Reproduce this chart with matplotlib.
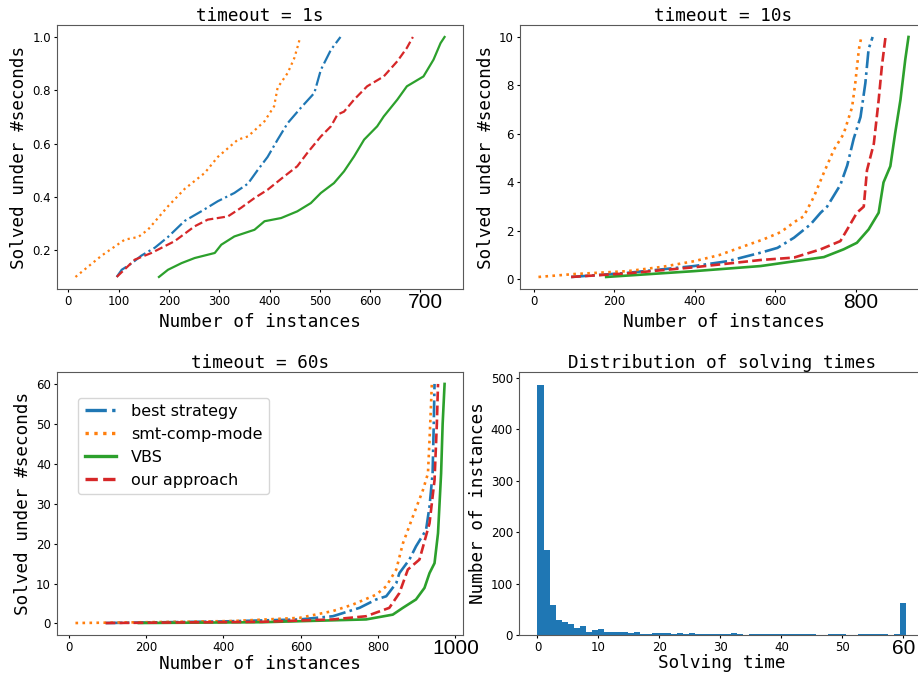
import numpy as np
import matplotlib
matplotlib.use("Agg")
import matplotlib.pyplot as plt

# timeout = 1s  (x = number of instances, y = seconds)
t1_best_x = [96, 106, 125, 145, 172, 198, 231, 264, 297, 330, 357, 376, 396, 416, 436, 462, 489, 502, 522, 541]
t1_best_y = [0.10, 0.127, 0.15, 0.18, 0.21, 0.25, 0.31, 0.346, 0.384, 0.415, 0.45, 0.50, 0.55, 0.615, 0.677, 0.734, 0.79, 0.877, 0.952, 1.0]
t1_smt_x = [14, 66, 112, 139, 158, 198, 231, 271, 297, 337, 357, 390, 409, 416, 436, 449, 456, 461]
t1_smt_y = [0.10, 0.18, 0.24, 0.25, 0.277, 0.365, 0.43, 0.49, 0.55, 0.615, 0.627, 0.684, 0.74, 0.81, 0.865, 0.92, 0.965, 1.0]
t1_vbs_x = [180, 198, 225, 251, 291, 304, 330, 370, 390, 423, 455, 482, 502, 528, 548, 568, 588, 614, 627, 654, 673, 706, 726, 740, 748]
t1_vbs_y = [0.10, 0.127, 0.152, 0.171, 0.19, 0.221, 0.252, 0.277, 0.309, 0.321, 0.346, 0.377, 0.415, 0.452, 0.496, 0.552, 0.615, 0.665, 0.702, 0.765, 0.815, 0.852, 0.915, 0.977, 1.0]
t1_ours_x = [96, 132, 165, 211, 251, 277, 317, 343, 370, 396, 429, 455, 475, 502, 522, 535, 548, 568, 594, 627, 654, 673, 685]
t1_ours_y = [0.10, 0.165, 0.19, 0.234, 0.29, 0.315, 0.327, 0.359, 0.396, 0.427, 0.477, 0.515, 0.565, 0.627, 0.665, 0.709, 0.72, 0.765, 0.815, 0.852, 0.909, 0.959, 1.0]

# timeout = 10s
t10_best_x = [93, 233, 398, 481, 563, 605, 646, 687, 712, 728, 761, 778, 794, 811, 823, 831, 841]
t10_best_y = [0.1, 0.27, 0.55, 0.75, 1.1, 1.3, 1.72, 2.27, 2.75, 3.0, 3.9, 4.7, 5.8, 6.7, 8.1, 9.5, 10.0]
t10_smt_x = [12, 100, 233, 320, 398, 460, 522, 570, 613, 650, 670, 695, 720, 745, 769, 790, 798, 807, 813]
t10_smt_y = [0.1, 0.22, 0.34, 0.52, 0.75, 1.0, 1.37, 1.65, 1.95, 2.4, 2.6, 3.4, 4.4, 5.35, 6.0, 7.1, 8.1, 9.5, 10.0]
t10_vbs_x = [180, 398, 563, 720, 769, 802, 831, 856, 868, 885, 897, 910, 922, 930]
t10_vbs_y = [0.1, 0.34, 0.55, 0.92, 1.24, 1.51, 2.06, 2.75, 4.0, 4.67, 6.04, 7.4, 9.07, 10.0]
t10_ours_x = [93, 233, 398, 563, 646, 712, 761, 778, 802, 819, 827, 844, 856, 864, 873]
t10_ours_y = [0.1, 0.25, 0.5, 0.8, 0.9, 1.24, 1.58, 2.06, 2.75, 3.0, 4.5, 5.6, 7.4, 8.8, 10.0]

# timeout = 60s
t60_best_x = [95, 400, 597, 683, 752, 795, 821, 847, 855, 881, 898, 924, 933, 941, 944, 946]
t60_best_y = [0.1, 0.5, 1.0, 1.8, 3.9, 6.0, 6.8, 10.1, 12.6, 16, 19.3, 23.4, 29.3, 37.6, 50, 60]
t60_smt_x = [17, 200, 424, 597, 683, 734, 795, 821, 847, 864, 890, 916, 929, 933, 937, 939]
t60_smt_y = [0.1, 0.3, 0.6, 1.4, 3.1, 4.7, 7.2, 9.3, 13.5, 20, 26.8, 33.4, 37.6, 45.9, 55, 60]
t60_vbs_x = [181, 500, 769, 838, 864, 898, 920, 933, 946, 955, 963, 967, 972]
t60_vbs_y = [0.1, 0.3, 1.0, 2.2, 3.9, 6.0, 8.9, 12.6, 15.1, 22.6, 37.6, 50, 60]
t60_ours_x = [95, 500, 683, 769, 829, 855, 877, 907, 933, 946, 952, 955]
t60_ours_y = [0.1, 0.4, 1.0, 1.8, 3.9, 7.6, 13.5, 16, 25.1, 35.9, 50, 60]

# histogram of solving times (one bin per second, last bin = timeouts)
hist_counts = [487, 166, 58, 29, 26, 21, 13, 17, 5, 10, 11, 5, 6, 6, 6, 3, 5, 2, 1, 3,
               3, 3, 1, 3, 1, 3, 2, 2, 1, 1, 1, 1, 4, 1, 0, 1, 1, 1, 2, 1,
               2, 1, 1, 1, 1, 1, 0, 0, 1, 1, 1, 0, 0, 1, 1, 1, 1, 1, 0, 1, 63]

labels = ["best strategy", "smt-comp-mode", "VBS", "our approach"]
colors = ["#1f77b4", "#ff7f0e", "#2ca02c", "#d62728"]
styles = ["-.", ":", "-", "--"]

mono = "DejaVu Sans Mono"
big = ["Liberation Sans", "DejaVu Sans"]
tick_fs = 8.5
lab_fs = 12.7

fig = plt.figure(figsize=(9.18, 6.75), dpi=100)
ax1 = fig.add_axes([0.0621, 0.5719, 0.4423, 0.3911])
ax2 = fig.add_axes([0.5664, 0.5719, 0.4434, 0.3911])
ax3 = fig.add_axes([0.0621, 0.0593, 0.4423, 0.3896])
ax4 = fig.add_axes([0.5654, 0.0593, 0.4420, 0.3896])

panels = [
    (ax1, "timeout = 1s", [(t1_best_x, t1_best_y), (t1_smt_x, t1_smt_y), (t1_vbs_x, t1_vbs_y), (t1_ours_x, t1_ours_y)],
     [0, 100, 200, 300, 400, 500, 600, 700], [0.2, 0.4, 0.6, 0.8, 1.0], 1.6, 4),
    (ax2, "timeout = 10s", [(t10_best_x, t10_best_y), (t10_smt_x, t10_smt_y), (t10_vbs_x, t10_vbs_y), (t10_ours_x, t10_ours_y)],
     [0, 200, 400, 600, 800], [0, 2, 4, 6, 8, 10], 1.9, 4),
    (ax3, "timeout = 60s", [(t60_best_x, t60_best_y), (t60_smt_x, t60_smt_y), (t60_vbs_x, t60_vbs_y), (t60_ours_x, t60_ours_y)],
     [0, 200, 400, 600, 800, 1000], [0, 10, 20, 30, 40, 50, 60], 1.9, 1),
]

for ax, title, series, xt, yt, lw, xpad in panels:
    for (x, y), lab, c, ls in zip(series, labels, colors, styles):
        ax.plot(x, y, ls, color=c, lw=lw, label=lab)
    ax.set_title(title, family=mono, fontsize=lab_fs, pad=1)
    ax.set_xlabel("Number of instances", family=mono, fontsize=lab_fs, labelpad=xpad)
    ax.set_ylabel("Solved under #seconds", family=mono, fontsize=lab_fs, labelpad=3)
    ax.set_xticks(xt)
    # last tick gets its own, bigger label below
    ax.set_xticklabels([str(v) for v in xt[:-1]] + [""])
    ax.set_yticks(yt)
    ax.set_yticklabels([f"{v:.1f}" if isinstance(v, float) else str(v) for v in yt])

edges = np.linspace(0, 60.5, len(hist_counts) + 1)
ax4.hist(edges[:-1], bins=edges, weights=hist_counts, color="#1f77b4")
ax4.set_title("Distribution of solving times", family=mono, fontsize=lab_fs, pad=1)
ax4.set_xlabel("Solving time", family=mono, fontsize=lab_fs, labelpad=0)
ax4.set_ylabel("Number of instances", family=mono, fontsize=lab_fs, labelpad=3)
ax4.set_xticks([0, 10, 20, 30, 40, 50, 60])
ax4.set_xticklabels(["0", "10", "20", "30", "40", "50", ""])
ax4.set_yticks([0, 100, 200, 300, 400, 500])

big_ticks = [(ax1, 700, 3.5), (ax2, 800, 3.5), (ax3, 1000, 0), (ax4, 60, 0.5)]
for ax, val, dx in big_ticks:
    ax.annotate(str(val), xy=(val, 0), xycoords=("data", "axes fraction"),
                xytext=(dx, -3), textcoords="offset points",
                ha="center", va="top", fontsize=15, family=big, annotation_clip=False)

for ax in [ax1, ax2, ax3, ax4]:
    ax.tick_params(labelsize=tick_fs, length=2.5, pad=1.8)
    for s in ax.spines.values():
        s.set_color("0.35")

leg = ax3.legend(loc="upper left", bbox_to_anchor=(0.052, 0.903), borderaxespad=0,
                 fontsize=11.5, labelspacing=0.5, handlelength=2.0, handletextpad=0.9)
for h in leg.get_lines():
    h.set_linewidth(2.4)

fig.savefig("out.png", dpi=100)
